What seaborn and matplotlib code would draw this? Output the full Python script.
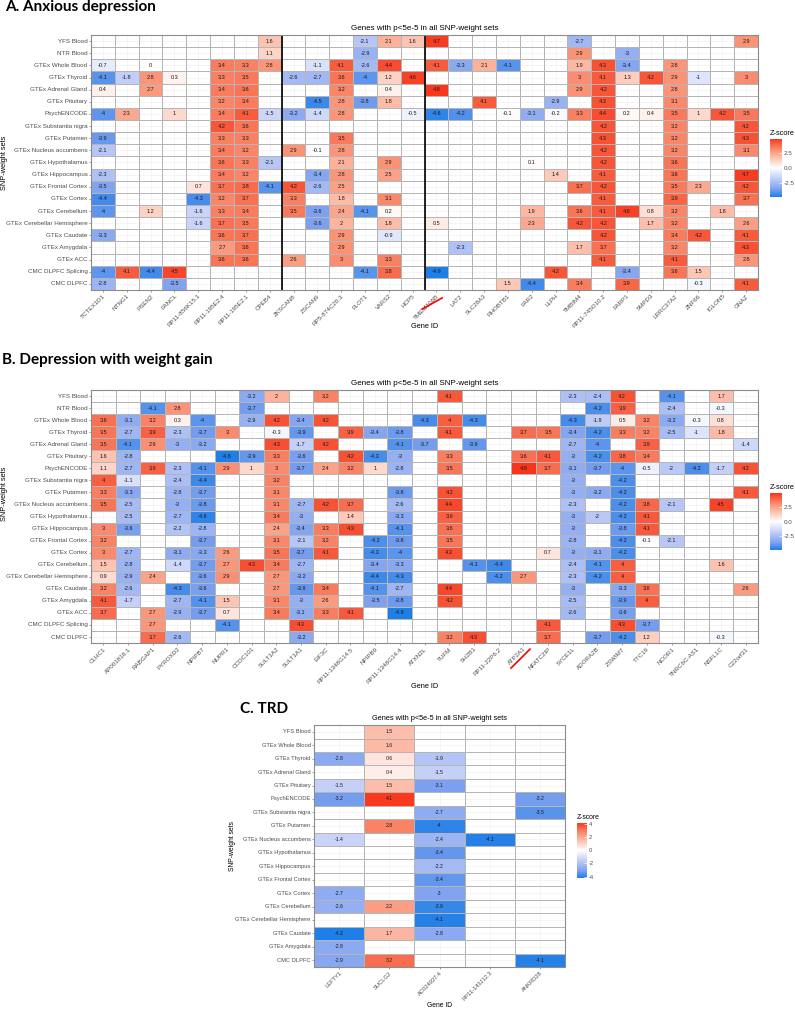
import numpy as np
import pandas as pd
import matplotlib
matplotlib.use("Agg")
import matplotlib.pyplot as plt
import seaborn as sns
from matplotlib.colors import LinearSegmentedColormap

_ = np.nan

# SNP-weight sets (rows) for panels A and B
tissues_ab = ["YFS Blood", "NTR Blood", "GTEx Whole Blood", "GTEx Thyroid", "GTEx Adrenal Gland",
              "GTEx Pituitary", "PsychENCODE", "GTEx Substantia nigra", "GTEx Putamen",
              "GTEx Nucleus accumbens", "GTEx Hypothalamus", "GTEx Hippocampus",
              "GTEx Frontal Cortex", "GTEx Cortex", "GTEx Cerebellum",
              "GTEx Cerebellar Hemisphere", "GTEx Caudate", "GTEx Amygdala", "GTEx ACC",
              "CMC DLPFC Splicing", "CMC DLPFC"]

# SNP-weight sets for panel C
tissues_c = ["YFS Blood", "GTEx Whole Blood", "GTEx Thyroid", "GTEx Adrenal Gland",
             "GTEx Pituitary", "PsychENCODE", "GTEx Substantia nigra", "GTEx Putamen",
             "GTEx Nucleus accumbens", "GTEx Hypothalamus", "GTEx Hippocampus",
             "GTEx Frontal Cortex", "GTEx Cortex", "GTEx Cerebellum",
             "GTEx Cerebellar Hemisphere", "GTEx Caudate", "GTEx Amygdala", "CMC DLPFC"]

# ---- Panel A: Anxious depression (one list per gene, one value per SNP-weight set)
genes_a = ["TCTEX1D1", "NTNG1", "PSEN2", "FANCL", "RP11-856K15.1", "RP11-195E2.4",
           "RP11-195E2.1", "CPEB4", "ZKSCAN8", "ZSCAN9", "RP5-874C20.3", "FLOT1", "VARS2",
           "HCP5", "TMEM106B", "LAT2", "SLC28A3", "RHOBTB1", "FAR2", "LLPH", "TMBIM4",
           "RP11-745O10.2", "FARP1", "SMPD3", "LRRC37A2", "ZNF66", "IGLON5", "GNAZ"]
z_a = [
    [_, _, -0.7, -4.1, 0.4, _, -4, _, -3.9, -2.1, _, -2.3, -3.5, -4.4, -4, _, -3.3, _, _, -4, -2.8],
    [_, _, _, -1.8, _, _, 2.3, _, _, _, _, _, _, _, _, _, _, _, _, 4.1, _],
    [_, _, 0, 2.8, 2.7, _, _, _, _, _, _, _, _, _, 1.2, _, _, _, _, -4.4, _],
    [_, _, _, 0.3, _, _, 1, _, _, _, _, _, _, _, _, _, _, _, _, 4.5, -3.5],
    [_, _, _, _, _, _, _, _, _, _, _, _, 0.7, -4.3, -1.6, -1.6, _, _, _, _, _],
    [_, _, 3.4, 3.3, 3.4, 3.2, 3.4, 4.2, 3.3, 3.4, 3.6, 3.4, 3.7, 3.2, 3.3, 3.7, 3.6, 2.7, 3.6, _, _],
    [_, _, 3.3, 3.5, 3.6, 3.4, 4.1, 3.6, 3.3, 3.2, 3.3, 3.2, 3.8, 3.7, 3.4, 3.5, 3.7, 3.6, 3.6, _, _],
    [1.6, 1.1, 2.8, _, _, _, -1.5, _, _, _, -2.1, _, -4.1, _, _, _, _, _, _, _, _],
    [_, _, _, -2.6, _, _, -3.2, _, _, 2.9, _, _, 4.2, 3.3, 3.5, _, _, _, 2.6, _, _],
    [_, _, -1.1, -2.7, _, -4.5, -1.4, _, _, -0.1, _, -3.4, -2.6, _, -3.6, -3.6, _, _, _, _, _],
    [_, _, 4.1, 3.6, 3.2, 2.8, 2.8, _, 3.5, 2.8, 2.1, 2.8, 2.5, 1.8, 2.4, 2, 2.9, 2.9, 3, _, _],
    [-2.1, -2.9, -2.6, -4, _, -3.8, _, _, _, _, _, _, _, _, -4.1, _, _, _, _, -4.1, _],
    [2.1, _, 4.4, 1.2, 0.4, 1.8, _, _, _, _, 2.9, 2.5, _, 3.1, 0.2, 1.8, -0.9, _, 3.3, 3.8, _],
    [1.6, _, _, 4.6, _, _, -0.5, _, _, _, _, _, _, _, _, _, _, _, _, _, _],
    [4.7, _, 4.1, _, 4.8, _, -4.6, _, _, _, _, _, _, _, _, 0.5, _, _, _, -4.9, _],
    [_, _, -3.3, _, _, _, -4.2, _, _, _, _, _, _, _, _, _, _, -2.3, _, _, _],
    [_, _, 2.1, _, _, 4.1, _, _, _, _, _, _, _, _, _, _, _, _, _, _, _],
    [_, _, -4.1, _, _, _, -0.1, _, _, _, _, _, _, _, _, _, _, _, _, _, 1.5],
    [_, _, _, _, _, _, -3.1, _, _, _, 0.1, _, _, _, 1.9, 2.3, _, _, _, _, -4.4],
    [_, _, _, _, _, -2.9, -0.2, _, _, _, _, 1.4, _, _, _, _, _, _, _, 4.2, _],
    [-2.7, 2.9, 1.9, 3, 2.9, _, 3.3, _, _, _, _, _, 3.7, _, 3.6, 4.2, _, 1.7, _, _, 3.4],
    [_, _, 4.3, 4.1, 4.2, 4.3, 4.4, 4.2, 4.3, 4.2, 4.2, 4.1, 4.2, 4.1, 4.1, 4.2, 4.2, 3.7, 4.1, _, _],
    [_, -3, -3.4, 1.3, _, _, 0.2, _, _, _, _, _, _, _, 4.6, _, _, _, _, -3.4, 3.9],
    [_, _, _, 4.2, _, _, 0.4, _, _, _, _, _, _, _, 0.8, 1.7, _, _, _, _, _],
    [_, _, 2.8, 2.9, 2.8, 3.1, 3.5, 3.2, 3.2, 3.2, 3.6, 3.6, 3.5, 3.9, 3.2, 3.2, 3.4, 3.2, 4.1, 3.6, _],
    [_, _, _, -1, _, _, 1, _, _, _, _, _, 2.3, _, _, _, 4.2, _, _, 1.5, -0.3],
    [_, _, _, _, _, _, 4.2, _, _, _, _, _, _, _, 1.8, _, _, _, _, _, _],
    [2.9, _, _, 3, _, _, 3.5, 4.2, 4.3, 3.1, _, 4.7, 4.2, 3.7, _, 2.6, 4.1, 4.3, 2.8, _, 4.1],
]

# ---- Panel B: Depression with weight gain
genes_b = ["CLHC1", "AP001816.1", "RABGAP1", "PYROXD2", "NPIPB7", "NUPR1", "CCDC101",
           "SULT1A2", "SULT1A1", "EIF3C", "RP11-1348G14.5", "NPIPB9", "RP11-1348G14.4",
           "ATXN2L", "TUFM", "SH2B1", "RP11-22P6.2", "ATP2A1", "NFATC2IP", "SYCE1L",
           "ADORA2B", "ZSWIM7", "TTC19", "NCOR1", "TNRC6C-AS1", "NSFL1C", "C22orf31"]
z_b = [
    [_, _, 3.6, 3.5, 3.5, 1.6, 1.1, 4, 3.3, 3.5, _, 3, 3.2, 3, 1.5, 0.9, 3.2, 4.1, 3.7, _, _],
    [_, _, -3.1, -2.7, -4.1, -2.8, -2.7, -1.1, -3.3, -2.5, -2.5, -3.6, _, -2.7, -2.8, -2.9, -2.6, -1.7, _, _, _],
    [_, -4.1, 3.2, 3.9, 2.9, _, 3.9, _, _, _, _, _, _, _, _, 2.4, _, _, 2.7, 2.7, 3.7],
    [_, 2.8, 0.3, -2.3, -3, _, -2.3, -2.4, -2.8, -3, -2.7, -2.2, _, -3.1, -1.4, _, -4.3, -2.7, -2.9, _, -2.6],
    [_, _, -4, -3.7, -3.2, _, -4.1, -4.4, -3.7, -3.8, -4.6, -2.8, -3.7, -3.3, -3.7, -3.6, -3.6, -4.1, -3.7, _, _],
    [_, _, _, 3, _, -4.8, 2.9, _, _, _, _, _, _, 2.6, 2.7, 2.9, _, 1.5, 0.7, -4.1, _],
    [-3.2, -3.7, -2.9, _, _, -3.9, 1, _, _, _, _, _, _, _, 4.3, _, _, _, _, _, _],
    [2, _, 4.2, -0.3, 4.3, 3.3, 3, 3.2, 3.1, 3.1, 3.4, 2.4, 3.1, 3.5, 3.4, 2.7, 2.7, 3.1, 3.4, _, _],
    [_, _, -3.4, -3.9, -1.7, -3.6, -3.7, _, _, -2.7, -3, -3.4, -2.1, -3.7, -2.7, -3.2, -3.9, -3, -3.1, 4.3, -3.2],
    [3.2, _, 4.2, _, 4.2, _, 2.4, _, _, 4.2, _, 3.3, 3.2, 4.1, _, _, 3.4, 2.6, 3.3, _, _],
    [_, _, _, 3.9, _, 4.2, 3.2, _, _, 3.7, 1.4, 4.3, _, _, _, _, _, _, 4.1, _, _],
    [_, _, _, -3.4, _, -4.3, 1, _, _, _, _, _, -4.2, -4.3, -3.4, -4.4, -4.1, -3.5, _, _, _],
    [_, _, _, -3.8, -4.1, -3, -2.8, _, -3.8, -2.6, -3.3, -4.1, -3.8, -4, -3.3, -4.3, -2.7, -3.8, -4.8, _, _],
    [_, _, -4.3, _, -3.7, _, _, _, _, _, _, _, _, _, _, _, _, _, _, _, _],
    [4.1, _, 4, 4.1, _, 3.3, 3.5, _, 4.2, 4.4, 3.9, 3.6, 3.5, 4.3, _, _, 4.4, 4.2, _, _, 3.2],
    [_, _, -4.3, _, -3.9, _, _, _, _, _, _, _, _, _, -4.1, _, _, _, _, _, 4.3],
    [_, _, _, _, _, _, _, _, _, _, _, _, _, _, -4.4, -4.2, _, _, _, _, _],
    [_, _, _, 3.7, _, 3.6, 4.8, _, _, _, _, _, _, _, _, 2.7, _, _, _, _, _],
    [_, _, _, 3.5, _, 4.1, 3.7, _, _, _, _, _, _, 0.7, _, _, _, _, _, 4.1, 3.7],
    [-2.3, _, -4.3, -3.4, -2.7, -3, -3.1, -3, -3, -2.3, -3, -3, -2.8, -3, -2.4, -2.3, -3, -2.5, -2.6, _, _],
    [-2.4, -4.2, -1.9, -4.2, -4, -4.2, -3.7, _, -3.2, _, -2, _, _, -3.1, -4.1, -4.2, _, _, _, _, -3.7],
    [4.2, 3.9, 0.5, 3.3, _, 3.8, -4, -4.2, -4.2, -4.2, -4.2, -3.8, -4.2, -4.2, 4, 4, -3.3, -3.9, -3.6, 4.3, -4.2],
    [_, _, 3.2, 3.2, 3.9, 3.4, -0.5, _, _, 3.8, 4.1, 4.1, -0.1, _, _, _, 3.6, 4, _, -3.7, 1.2],
    [-4.1, -2.4, -3.2, -2.5, _, _, -2, _, _, -2.1, _, _, -2.1, _, _, _, _, _, _, _, _],
    [_, _, -0.3, -1, _, _, -4.2, _, _, _, _, _, _, _, _, _, _, _, _, _, _],
    [1.7, -0.3, 0.8, 1.8, _, _, -1.7, _, _, 4.5, _, _, _, _, 1.6, _, _, _, _, _, -0.3],
    [_, _, _, _, -1.4, _, 4.2, _, 4.1, _, _, _, _, _, _, _, 2.6, _, _, _, _],
]

# ---- Panel C: TRD
genes_c = ["LEFTY1", "SUCLG2", "AC024937.4", "RP11-143J12.3", "ANKRD28"]
z_c = [
    [_, _, -2.8, _, -1.5, -3.2, _, _, -1.4, _, _, _, -2.7, -2.6, _, -4.2, -2.8, -2.9],
    [1.5, 1.6, 0.6, 0.4, 1.5, 4.1, _, 2.8, _, _, _, _, _, 2.2, _, 1.7, _, 3.2],
    [_, _, -1.9, -1.5, -3.1, _, -2.7, -4, -2.4, -3.4, -2.2, -3.4, -3, -3.9, -4.1, -2.8, _, _],
    [_, _, _, _, _, _, _, _, -4.1, _, _, _, _, _, _, _, _, _],
    [_, _, _, _, _, -3.2, -3.5, _, _, _, _, _, _, _, _, _, _, -4.1],
]

plt.rcParams["font.family"] = ["Liberation Sans", "DejaVu Sans"]

# blue - white - red scale (roughly Lab-like interpolation as in ggplot gradient2)
zcmap = LinearSegmentedColormap.from_list(
    "zscore",
    ["#1F7FE8", "#7CA0EF", "#ABBEF5", "#D6DEFA", "#FFFFFF",
     "#FDD0C2", "#FBA48A", "#F87354", "#F8341A"])

TITLE = "Genes with p<5e-5 in all SNP-weight sets"


def draw_panel(ax, cax, genes, rows, values, ticks, fmt, scale=1.0):
    df = pd.DataFrame(np.array(values, dtype=float).T, index=rows, columns=genes)
    sns.heatmap(df, ax=ax, cbar_ax=cax, cmap=zcmap, center=0,
                vmin=np.nanmin(df.values), vmax=np.nanmax(df.values),
                annot=True, fmt="g", xticklabels=True, yticklabels=True,
                annot_kws={"size": 4.0 * scale, "color": "#1a1a1a"},
                linewidths=0.4, linecolor="#b5b5b5",
                cbar_kws={"ticks": ticks, "format": fmt})
    ax.set_axisbelow(True)
    ax.grid(True, color="#f0f0f0", linewidth=0.45)
    for s in ax.spines.values():
        s.set_visible(True)
        s.set_color("#8c8c8c")
        s.set_linewidth(0.8)
    ax.tick_params(axis="both", length=1.5, width=0.4, color="#555555",
                   labelsize=4.5 * scale, labelcolor="#4d4d4d", pad=1)
    plt.setp(ax.get_yticklabels(), rotation=0)
    plt.setp(ax.get_xticklabels(), rotation=45, ha="right", va="top",
             rotation_mode="anchor")
    ax.set_title(TITLE, fontsize=5.8 * scale, pad=3.8)
    ax.set_xlabel("Gene ID", fontsize=5.3 * scale)
    ax.set_ylabel("SNP-weight sets", fontsize=5.3 * scale)

    cbar = ax.collections[0].colorbar
    cbar.outline.set_visible(False)
    cax.tick_params(length=2, width=0.5, color="white", direction="in",
                    labelsize=4.5 * scale, labelcolor="#4d4d4d", pad=1.5)
    cax.set_title("Z-score", fontsize=5.3 * scale, loc="left", pad=3)


fig = plt.figure(figsize=(7.95, 10.09), dpi=100)

# Panel A
axA = fig.add_axes([0.1145, 0.7126, 0.839, 0.2527])
caxA = fig.add_axes([0.9686, 0.8048, 0.0151, 0.0575])
draw_panel(axA, caxA, genes_a, tissues_ab, z_a, [-2.5, 0, 2.5], "%.1f")
axA.axvline(genes_a.index("ZKSCAN8"), color="black", lw=1.2)
axA.axvline(genes_a.index("TMEM106B"), color="black", lw=1.2)
axA.xaxis.set_label_coords(0.5, -0.129)
axA.yaxis.set_label_coords(-0.124, 0.5)
i = genes_a.index("TMEM106B")
axA.plot([i - 0.1, i + 0.74], [-0.075, -0.031], color="red", lw=1.2,
         transform=axA.get_xaxis_transform(), clip_on=False)

# Panel B
axB = fig.add_axes([0.1145, 0.3627, 0.839, 0.2507])
caxB = fig.add_axes([0.9686, 0.4549, 0.0151, 0.0565])
draw_panel(axB, caxB, genes_b, tissues_ab, z_b, [-2.5, 0, 2.5], "%.1f")
axB.xaxis.set_label_coords(0.5, -0.158)
axB.yaxis.set_label_coords(-0.124, 0.589)
i = genes_b.index("ATP2A1")
axB.plot([i + 0.0, i + 0.77], [-0.099, -0.024], color="red", lw=1.2,
         transform=axB.get_xaxis_transform(), clip_on=False)

# Panel C
axC = fig.add_axes([0.395, 0.0416, 0.3157, 0.2398])
caxC = fig.add_axes([0.7258, 0.1298, 0.0126, 0.0545])
draw_panel(axC, caxC, genes_c, tissues_c, z_c, [-4, -2, 0, 2, 4], "%g", scale=0.92)
axC.xaxis.set_label_coords(0.5, -0.145)
axC.yaxis.set_label_coords(-0.309, 0.5)

# panel letters
letter_kw = dict(fontsize=11, fontweight="bold", family=["Lato", "DejaVu Sans"], va="baseline")
fig.text(5 / 795, 1 - 11 / 1009, "A. Anxious depression", **letter_kw)
fig.text(1.5 / 795, 1 - 364 / 1009, "B. Depression with weight gain", **letter_kw)
fig.text(240 / 795, 1 - 713 / 1009, "C. TRD", **letter_kw)

fig.savefig("out.png", dpi=100)
